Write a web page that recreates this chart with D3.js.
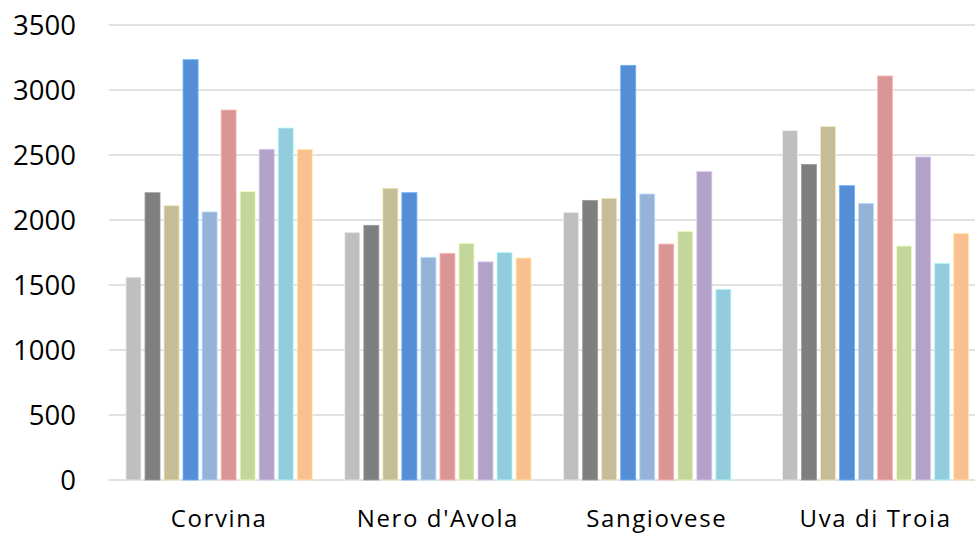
<!DOCTYPE html>
<html>
<head>
<meta charset="utf-8">
<script src="https://cdn.jsdelivr.net/npm/d3@7"></script>
<style>
  html, body { margin: 0; padding: 0; background: #fff; }
  svg { display: block; }
</style>
</head>
<body>
<svg id="chart" width="975" height="535"></svg>
<script>
// Grape varieties along the x axis
const categories = ["Corvina", "Nero d'Avola", "Sangiovese", "Uva di Troia"];

// Ten series per variety (null = no bar)
const seriesNames = ["S1", "S2", "S3", "S4", "S5", "S6", "S7", "S8", "S9", "S10"];
const seriesColors = ["#BFBFBF", "#7F7F7F", "#C4BD97", "#558ED5", "#95B3D7",
                      "#D99694", "#C3D69B", "#B3A2C7", "#93CDDD", "#FAC090"];

const corvina     = [1560, 2210, 2110, 3233, 2062, 2846, 2220, 2544, 2708, 2544];
const neroDAvola  = [1905, 1959, 2244, 2210, 1713, 1744, 1821, 1678, 1751, 1708];
const sangiovese  = [2059, 2151, 2167, 3190, 2200, 1815, 1913, 2372, 1467, null];
const uvaDiTroia  = [2687, 2428, 2718, 2264, 2128, 3108, 1800, 2485, 1667, 1897];

const values = [corvina, neroDAvola, sangiovese, uvaDiTroia];
const yTicks = [0, 500, 1000, 1500, 2000, 2500, 3000, 3500];

const svg = d3.select("#chart");
const plot = { left: 109.7, right: 985, top: 25, bottom: 480 };

const x0 = d3.scaleBand().domain(categories).range([plot.left, plot.right])
  .paddingInner(0).paddingOuter(0);
const x1 = d3.scaleBand().domain(seriesNames).range([0, x0.bandwidth()])
  .paddingInner(0).paddingOuter(0.75);
const y = d3.scaleLinear().domain([0, 3500]).range([plot.bottom, plot.top]);

// Horizontal gridlines
svg.append("g")
  .selectAll("line")
  .data(yTicks)
  .join("line")
  .attr("x1", plot.left - 1)
  .attr("x2", 975)
  .attr("y1", d => y(d))
  .attr("y2", d => y(d))
  .attr("stroke", "#D9D9D9")
  .attr("stroke-width", 1.6);

// Y tick labels
svg.append("g")
  .selectAll("text")
  .data(yTicks)
  .join("text")
  .attr("x", 76)
  .attr("y", d => y(d))
  .attr("dy", "0.36em")
  .attr("text-anchor", "end")
  .attr("font-family", "'Open Sans', 'Noto Sans', sans-serif")
  .attr("font-size", 27.5)
  .attr("fill", "#000")
  .text(d => d);

// Bars
const gap = 4;
const groups = svg.append("g")
  .selectAll("g")
  .data(categories)
  .join("g")
  .attr("transform", d => `translate(${x0(d)},0)`);

groups.selectAll("rect")
  .data((c, i) => seriesNames.map((s, j) => ({ s, v: values[i][j], color: seriesColors[j] }))
    .filter(d => d.v != null))
  .join("rect")
  .attr("x", d => x1(d.s) + gap / 2)
  .attr("width", x1.bandwidth() - gap)
  .attr("y", d => y(d.v))
  .attr("height", d => y(0) - y(d.v))
  .attr("fill", d => d.color)
  .attr("stroke", d => d3.color(d.color).brighter(0.6))
  .attr("stroke-width", 0.8);

// Category labels
svg.append("g")
  .selectAll("text")
  .data(categories)
  .join("text")
  .attr("x", d => x0(d) + x0.bandwidth() / 2)
  .attr("y", 527)
  .attr("text-anchor", "middle")
  .attr("font-family", "'Open Sans', 'Noto Sans', sans-serif")
  .attr("font-size", 24)
  .attr("letter-spacing", 1.6)
  .attr("fill", "#000")
  .text(d => d);
</script>
</body>
</html>
